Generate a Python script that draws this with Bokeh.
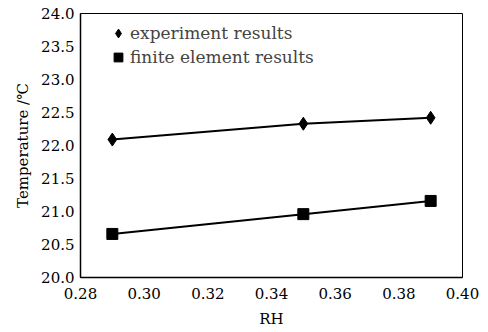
from bokeh.plotting import figure
from bokeh.models import Range1d, FixedTicker, Legend, LegendItem
from bokeh.embed import file_html
from bokeh.resources import INLINE

rh = [0.29, 0.35, 0.39]
experiment = [22.09, 22.33, 22.42]
finite_element = [20.66, 20.96, 21.16]
x_ticks = [0.28, 0.30, 0.32, 0.34, 0.36, 0.38, 0.40]
y_ticks = [20.0, 20.5, 21.0, 21.5, 22.0, 22.5, 23.0, 23.5, 24.0]

FONT = "DejaVu Serif"

p = figure(width=488, height=332, output_backend="svg", toolbar_location=None,
           x_range=Range1d(0.28, 0.40), y_range=Range1d(20.0, 24.0),
           min_border_left=80, min_border_right=26, min_border_top=13, min_border_bottom=55)
p.background_fill_color = "white"
p.border_fill_color = "white"
p.outline_line_color = "black"
p.outline_line_width = 1
p.grid.visible = False

l1 = p.line(rh, experiment, line_color="black", line_width=2)
m1 = p.scatter(rh, experiment, marker="diamond", size=13, fill_color="black", line_color="black")
l2 = p.line(rh, finite_element, line_color="black", line_width=2)
m2 = p.scatter(rh, finite_element, marker="square", size=11, fill_color="black", line_color="black")

for ax in (p.xaxis[0], p.yaxis[0]):
    ax.axis_line_color = "black"
    ax.axis_line_width = 1.5
    ax.major_tick_in = 0
    ax.major_tick_out = 0
    ax.minor_tick_in = 0
    ax.minor_tick_out = 0
    ax.major_label_text_font = FONT
    ax.major_label_text_font_size = "15px"
    ax.major_label_text_color = "black"
    ax.axis_label_text_font = FONT
    ax.axis_label_text_font_size = "15px"
    ax.axis_label_text_font_style = "normal"
    ax.axis_label_text_color = "black"

p.xaxis.ticker = FixedTicker(ticks=x_ticks)
p.yaxis.ticker = FixedTicker(ticks=y_ticks)
p.xaxis.major_label_overrides = {t: f"{t:.2f}" for t in x_ticks}
p.yaxis.major_label_overrides = {t: f"{t:.1f}" for t in y_ticks}
p.xaxis.major_label_standoff = 10
p.yaxis.major_label_standoff = 6
p.xaxis.axis_label = "RH"
p.yaxis.axis_label = "Temperature /\u2103"
p.xaxis.axis_label_standoff = 8
p.yaxis.axis_label_standoff = 6

legend = Legend(items=[LegendItem(label="experiment results", renderers=[m1]),
                       LegendItem(label="finite element results", renderers=[m2])],
                location=(27, 209), border_line_alpha=0, background_fill_alpha=0,
                label_text_font=FONT, label_text_font_size="17px",
                glyph_width=22, glyph_height=22, label_height=22,
                label_standoff=1, spacing=2, padding=0, margin=0)
p.add_layout(legend)

open("out.html", "w").write(file_html(p, INLINE))
